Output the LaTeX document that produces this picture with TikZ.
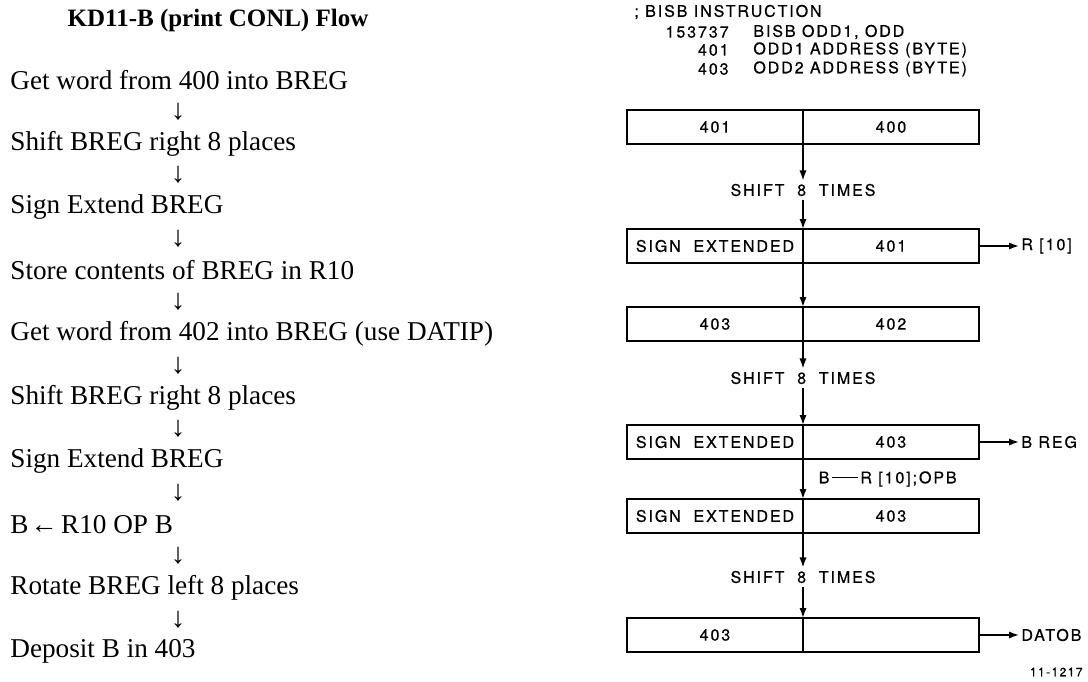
\documentclass[tikz,border=0pt]{standalone}
\usepackage{fontspec}
\setmainfont{Liberation Serif}
\newfontfamily\capsfont[LetterSpace=12,FakeBold=0.6]{TeX Gyre Heros}
\usetikzlibrary{arrows.meta}

\begin{document}
\begin{tikzpicture}[x=0.5pt, y=-0.5pt, >={Latex[length=5pt,width=3.6pt]},
    flowtext/.style={anchor=west, inner sep=0pt, font=\fontsize{13.6}{16}\selectfont},
    flowdown/.style={inner sep=0pt, font=\fontsize{14.5}{16}\selectfont},
    caps/.style={inner sep=1.5pt, font=\capsfont\fontsize{8}{10}\selectfont},
    half/.style={draw, line width=1.3pt, outer sep=0pt, minimum width=88pt, minimum height=17pt,
        inner sep=0pt, font=\capsfont\fontsize{8}{10}\selectfont},
    link/.style={->, line width=0.75pt}]
    \useasboundingbox (0,0) rectangle (1088,681);

    % Flow text
    \node[font=\bfseries\fontsize{12.5}{15}\selectfont] (title) at (218,20) {KD11-B (print CONL) Flow};
    \foreach \txt [count=\i] in {Get word from 400 into BREG, Shift BREG right 8 places,
        Sign Extend BREG, Store contents of BREG in R10,
        Get word from 402 into BREG (use DATIP), Shift BREG right 8 places,
        Sign Extend BREG, B\hspace{0.08em}←\hspace{0.12em}R10 OP B, Rotate BREG left 8 places,
        Deposit B in 403} {
        \node[flowtext] (line\i) at (10,{80+(\i-1)*63.5}) {\txt};
    }
    \foreach \i in {1,...,9} {
        \node[flowdown] (down\i) at (178,{80+(\i-0.5)*63.5}) {↓};
    }

    % Listing
    \node[caps, anchor=west] (head) at (631,12) {; BISB INSTRUCTION};
    \node[caps, anchor=east] (code1) at (732,32) {153737};
    \node[caps, anchor=west] (inst1) at (750,32) {BISB ODD1, ODD};
    \node[caps, anchor=east] (code2) at (732,50) {401};
    \node[caps, anchor=west] (inst2) at (750,50) {ODD1 ADDRESS (BYTE)};
    \node[caps, anchor=east] (code3) at (732,69) {403};
    \node[caps, anchor=west] (inst3) at (750,69) {ODD2 ADDRESS (BYTE)};

    % Registers
    \foreach \name/\y/\lt/\rt in {b1/127/401/400, b2/246/SIGN\ \ EXTENDED/401,
        b3/324/403/402, b4/442/SIGN\ \ EXTENDED/403, b5/516/SIGN\ \ EXTENDED/403,
        b6/635/403/} {
        \node[half] (\name l) at (715,\y) {\lt};
        \node[half, anchor=west] (\name r) at (\name l.east) {\rt};
    }

    \node[caps] (shift1) at (803,190) {SHIFT\ \ 8\ \ TIMES};
    \node[caps] (shift2) at (803,378) {SHIFT\ \ 8\ \ TIMES};
    \node[caps] (shift3) at (803,577) {SHIFT\ \ 8\ \ TIMES};

    \draw[link] (b1l.south east) -- (shift1.north);
    \draw[link] (shift1.south) -- (b2l.north east);
    \draw[link] (b2l.south east) -- (b3l.north east);
    \draw[link] (b3l.south east) -- (shift2.north);
    \draw[link] (shift2.south) -- (b4l.north east);
    \draw[link] (b4l.south east) -- node[caps, anchor=west, xshift=6pt] (opb)
        {B\,\rule[0.3em]{1.6em}{0.6pt}\,R [10];OPB} (b5l.north east);
    \draw[link] (b5l.south east) -- (shift3.north);
    \draw[link] (shift3.south) -- (b6l.north east);

    % Outputs
    \node[caps, anchor=west, inner sep=1pt] (r10) at (1019,246) {R [10]};
    \node[caps, anchor=west, inner sep=1pt] (breg) at (1019,442) {B REG};
    \node[caps, anchor=west, inner sep=1pt] (datob) at (1019,635) {DATOB};
    \draw[link] (b2r.east) -- (r10.west);
    \draw[link] (b4r.east) -- (breg.west);
    \draw[link] (b6r.east) -- (datob.west);

    \node[caps, anchor=east, font=\capsfont\fontsize{6}{7}\selectfont] (fig) at (1086,672) {11-1217};
\end{tikzpicture}
\end{document}
